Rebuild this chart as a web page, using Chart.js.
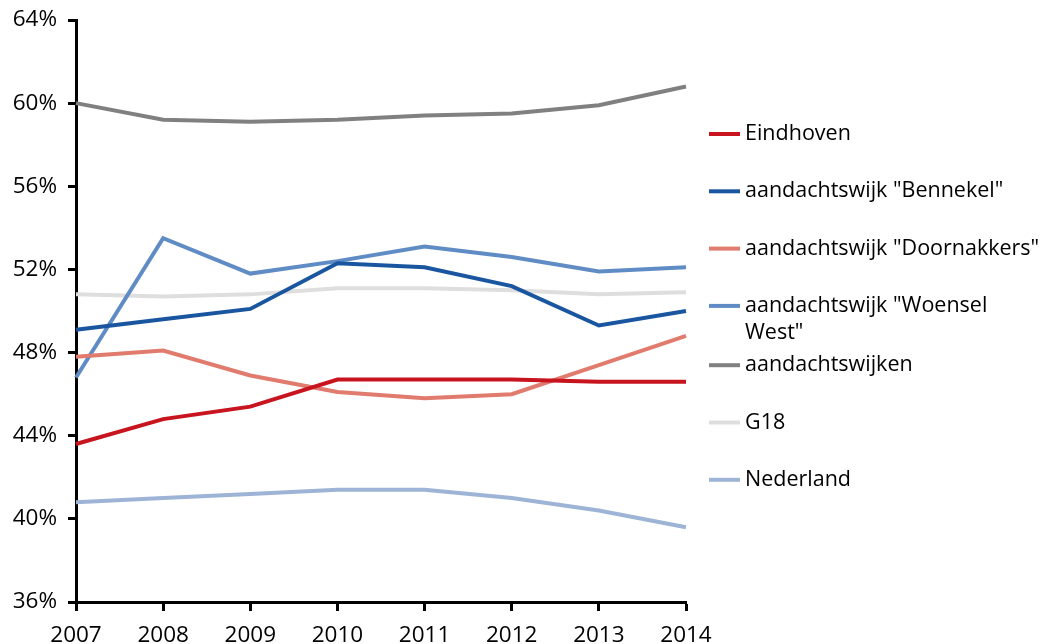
<!DOCTYPE html>
<html>
<head>
<meta charset="utf-8">
<script src="https://cdn.jsdelivr.net/npm/chart.js@4"></script>
<style>
  html, body { margin: 0; padding: 0; background: #fff; overflow: hidden; }
  #wrap { width: 1047px; height: 644px; }
</style>
</head>
<body>
<div id="wrap"><canvas id="chart" width="1047" height="644"></canvas></div>
<script>
  var years = ["2007", "2008", "2009", "2010", "2011", "2012", "2013", "2014"];

  var eindhoven = [43.6, 44.8, 45.4, 46.7, 46.7, 46.7, 46.6, 46.6];
  var bennekel = [49.1, 49.6, 50.1, 52.3, 52.1, 51.2, 49.3, 50.0];
  var doornakkers = [47.8, 48.1, 46.9, 46.1, 45.8, 46.0, 47.4, 48.8];
  var woenselWest = [46.8, 53.5, 51.8, 52.4, 53.1, 52.6, 51.9, 52.1];
  var aandachtswijken = [60.0, 59.2, 59.1, 59.2, 59.4, 59.5, 59.9, 60.8];
  var g18 = [50.8, 50.7, 50.8, 51.1, 51.1, 51.0, 50.8, 50.9];
  var nederland = [40.8, 41.0, 41.2, 41.4, 41.4, 41.0, 40.4, 39.6];

  var yTicks = [36, 40, 44, 48, 52, 56, 60, 64];

  var FONT = "'Open Sans', 'DejaVu Sans', sans-serif";

  function ds(label, data, color) {
    return {
      label: label,
      data: data,
      borderColor: color,
      backgroundColor: color,
      borderWidth: 4,
      pointRadius: 0,
      tension: 0,
      fill: false
    };
  }

  // legend drawn by hand so the long label can wrap onto two lines
  var sideLegend = {
    id: "sideLegend",
    afterDraw: function (chart) {
      var ctx = chart.ctx;
      var x0 = chart.chartArea.right + 23;
      var tx = x0 + 36;
      var maxW = chart.width - tx - 2;
      ctx.save();
      ctx.font = "21.5px " + FONT;
      ctx.textBaseline = "middle";
      ctx.fillStyle = "#000";
      chart.data.datasets.forEach(function (d, i) {
        var y = 134 + i * 57.3 + (i > 3 ? 2 : 0);
        ctx.strokeStyle = d.borderColor;
        ctx.lineWidth = 4;
        ctx.beginPath();
        ctx.moveTo(x0, y);
        ctx.lineTo(x0 + 31, y);
        ctx.stroke();
        var words = d.label.split(" ");
        var line = "";
        var lines = [];
        words.forEach(function (w) {
          var test = line ? line + " " + w : w;
          if (line && ctx.measureText(test).width > maxW) {
            lines.push(line);
            line = w;
          } else {
            line = test;
          }
        });
        lines.push(line);
        lines.forEach(function (t, k) {
          ctx.fillText(t, tx, y + k * 27);
        });
      });
      ctx.restore();
    }
  };

  new Chart(document.getElementById("chart"), {
    type: "line",
    data: {
      labels: years,
      datasets: [
        ds("Eindhoven", eindhoven, "#c8141e"),
        ds('aandachtswijk "Bennekel"', bennekel, "#1a56a0"),
        ds('aandachtswijk "Doornakkers"', doornakkers, "#e07b6e"),
        ds('aandachtswijk "Woensel West"', woenselWest, "#5f8cc4"),
        ds("aandachtswijken", aandachtswijken, "#808080"),
        ds("G18", g18, "#dedede"),
        ds("Nederland", nederland, "#9db4d6")
      ]
    },
    options: {
      responsive: false,
      animation: false,
      layout: { padding: { top: 20, right: 361, left: 0, bottom: 0 } },
      plugins: {
        legend: { display: false },
        tooltip: { enabled: false }
      },
      scales: {
        x: {
          offset: false,
          border: { color: "#000", width: 3 },
          grid: { drawOnChartArea: false, drawTicks: true, tickLength: 9, tickColor: "#000", tickWidth: 3 },
          ticks: { color: "#000", font: { family: FONT, size: 22.5 }, padding: 11, maxRotation: 0 },
          afterFit: function (s) {
            s.height = 42;
            s.paddingLeft = 0;
            s.paddingRight = 0;
          }
        },
        y: {
          min: 36,
          max: 64,
          border: { color: "#000", width: 3 },
          grid: { drawOnChartArea: false, drawTicks: true, tickLength: 8, tickColor: "#000", tickWidth: 3 },
          afterBuildTicks: function (s) {
            s.ticks = yTicks.map(function (v) { return { value: v }; });
          },
          ticks: {
            color: "#000",
            font: { family: FONT, size: 22.5 },
            padding: 11,
            callback: function (v) { return v + "%"; }
          },
          afterFit: function (s) {
            s.width = 76;
            s.paddingTop = 0;
            s.paddingBottom = 0;
          }
        }
      }
    },
    plugins: [sideLegend]
  });
</script>
</body>
</html>
